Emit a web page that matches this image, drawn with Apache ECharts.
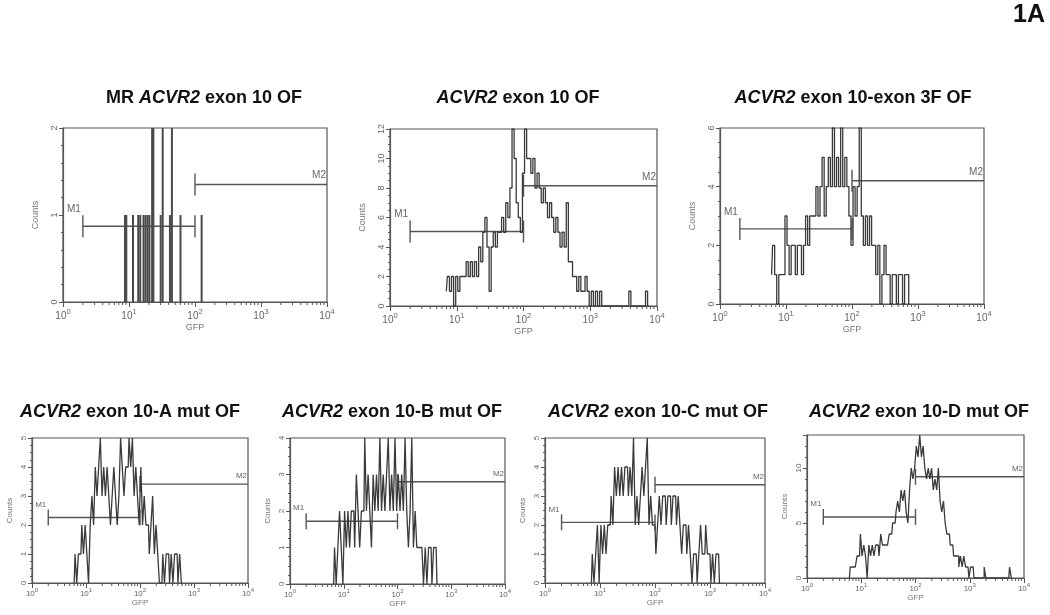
<!DOCTYPE html>
<html><head><meta charset="utf-8">
<script src="https://cdn.jsdelivr.net/npm/echarts@6/dist/echarts.min.js"></script>
<style>html,body{margin:0;padding:0;background:#fff}#c{width:1050px;height:615px}</style>
</head><body><div id="c"></div>
<script>
// ---------- DATA ----------
const BINS_PER_DECADE = 32;               // histogram channel resolution (log10 units)
const gateLabels = ['M1', 'M2'];
// log-axis minor tick values (2..9 within each decade)
const xMinorTicks = [2,3,4,5,6,7,8,9, 20,30,40,50,60,70,80,90, 200,300,400,500,600,700,800,900,
  2000,3000,4000,5000,6000,7000,8000,9000];

// Panel 1: MR ACVR2 exon 10 OF (sparse events)
const p1SpikeGfp    = [8.7, 9.1, 11.5, 13.8, 14.8, 16.6, 17.8, 19.1, 20.4, 22.4, 23.4, 30.2, 32.4, 41.7, 44.7, 60.3, 126];
const p1SpikeCounts = [1, 1, 1, 1, 1, 1, 1, 1, 1, 2, 2, 1, 2, 1, 2, 1, 1];
const p1Gates = [[2, 100, 0.87], [100, 10000, 1.35]];

// Panel 2: ACVR2 exon 10 OF
const p2StartBin = 27;
const p2Counts = [1,2,1,2,0,2,1,2,2,2, 3,2,3,2,3,2,4,3,5,6, 4,1,4,5,4,5,5,6,5,7,
  6,8,12,10,7,6,5,9,12,10, 10,9,10,8,9,8,7,8,7,6, 7,6,5,6,5,4,5,4,7,3,
  3,2,2,1,2,1,1,2,1,0, 1,0,1,0,1,0,0,0,0,0, 0,0,0,0,0,0,0,0,1,0, 0,0,0,0,0,0,1,0];
const p2Gates = [[2, 100, 5.05], [100, 10000, 8.15]];

// Panel 3: ACVR2 exon 10-exon 3F OF
const p3StartBin = 25;
const p3Counts = [1,2,1,0,1,1,1,3,2,1, 2,2,1,2,2,1,2,3,2,3, 3,3,4,3,4,5,3,4,5,4,
  6,4,5,4,6,4,5,4,3,2, 4,3,4,6,3,2,3,2,3,2, 2,1,2,0,1,2,1,1,0,1, 1,0,1,1,0,1,1,0];
const p3Gates = [[2, 100, 2.56], [100, 10000, 4.2]];

// Panel 4: ACVR2 exon 10-A mut OF
const p4StartBin = 25;
const p4Counts = [0,1,0,1,1,2,1,2,1,0, 2,3,2,4,3,4,5,3,4,3, 4,3,2,3,4,3,2,3,5,4,
  3,4,4,5,4,5,3,4,3,2, 4,2,3,2,2,1,2,3,1,2, 1,0,0,1,0,1,1,0,1,0, 1,1,0,1,0];
const p4Gates = [[2, 100, 2.26], [100, 10000, 3.41]];

// Panel 5: ACVR2 exon 10-B mut OF
const p5StartBin = 26;
const p5Counts = [0,1,0,1,2,1,0,2,1,2, 1,2,2,1,3,2,1,2,2,4, 2,3,2,1,3,2,3,2,4,2,
  3,2,3,4,2,3,2,4,2,3, 2,3,2,4,2,1,2,4,1,2, 1,1,1,1,0,1,0,1,1,0, 1,1,0];
const p5Gates = [[2, 100, 1.72], [100, 10000, 2.8]];

// Panel 6: ACVR2 exon 10-C mut OF
const p6StartBin = 27;
const p6Counts = [0,1,0,1,2,0,2,1,2,1, 2,2,3,2,4,3,4,3,4,3, 4,4,3,4,3,5,2,3,2,3,
  4,3,4,5,2,3,2,2,1,2, 3,2,3,3,2,3,3,2,3,3, 2,3,2,1,2,2,1,2,1,0, 1,1,0,1,2,1,1,2,1,1,
  0,1,0,1,1,0];
const p6Gates = [[2, 100, 2.09], [100, 10000, 3.39]];

// Panel 7: ACVR2 exon 10-D mut OF
const p7StartBin = 25;
const p7Counts = [0,1,1,1,1,2,2,4,2,3, 2,0,3,2,3,2,3,3,2,4, 3,3,3,3,4,4,5,5,6,7,
  6,8,7,8,6,5,8,10,9,10, 12,11,13,11,12,10,9,10,9,10, 8,9,8,10,7,6,7,5,4,4,
  3,3,2,2,2,1,2,1,2,1, 1,0,1,1,0,0,0,0,0,0, 1,0,0,0,0,0,0,0,0,0, 0,0,0,0,0,1,0];
const p7Gates = [[2, 100, 5.55], [100, 10000, 9.2]];

const titleParts = [
  ['MR ', 'ACVR2', ' exon 10 OF'],
  ['', 'ACVR2', ' exon 10 OF'],
  ['', 'ACVR2', ' exon 10-exon 3F OF'],
  ['', 'ACVR2', ' exon 10-A mut OF'],
  ['', 'ACVR2', ' exon 10-B mut OF'],
  ['', 'ACVR2', ' exon 10-C mut OF'],
  ['', 'ACVR2', ' exon 10-D mut OF']
];
const yMax = [2, 12, 6, 5, 4, 5, 13];
const yInterval = [1, 2, 2, 1, 1, 1, 5];
const figureLabel = '1A';

// ---------- LAYOUT ----------
const FONT = '"Liberation Sans", Arial, sans-serif';
const layout = [
  {grid: {left: 63,  top: 128, width: 264, height: 174}, tx: 204, ty: 98,  small: false},
  {grid: {left: 390, top: 129, width: 267, height: 177}, tx: 518, ty: 98,  small: false},
  {grid: {left: 720, top: 128, width: 264, height: 176}, tx: 853, ty: 98,  small: false},
  {grid: {left: 32,  top: 438, width: 216, height: 145}, tx: 130, ty: 412, small: true},
  {grid: {left: 290, top: 438, width: 215, height: 146}, tx: 392, ty: 412, small: true},
  {grid: {left: 545, top: 438, width: 220, height: 145}, tx: 658, ty: 412, small: true},
  {grid: {left: 807, top: 435, width: 217, height: 143}, tx: 919, ty: 412, small: true}
];
const yMinorSplit = [5, 4, 4, 4, 4, 4, 5];

const hists = [null,
  [p2StartBin, p2Counts], [p3StartBin, p3Counts], [p4StartBin, p4Counts],
  [p5StartBin, p5Counts], [p6StartBin, p6Counts], [p7StartBin, p7Counts]];
const gates = [p1Gates, p2Gates, p3Gates, p4Gates, p5Gates, p6Gates, p7Gates];

const GRAY = '#555';
const grids = [], xAxes = [], yAxes = [], series = [], graphics = [];

layout.forEach((L, i) => {
  const sm = L.small;
  grids.push(Object.assign({show: true, borderColor: GRAY, borderWidth: 1.2, backgroundColor: 'transparent'}, L.grid));
  xAxes.push({
    type: 'log', logBase: 10, min: 1, max: 10000, gridIndex: i,
    name: 'GFP', nameLocation: 'middle', nameGap: sm ? 15 : 21,
    nameTextStyle: {fontFamily: FONT, fontSize: sm ? 8 : 9, color: '#777'},
    axisLine: {show: true, onZero: false, lineStyle: {color: GRAY, width: 1.2}},
    axisTick: {show: true, inside: false, length: 5, lineStyle: {color: GRAY}},
    minorTick: {show: false},
    splitLine: {show: false}, minorSplitLine: {show: false},
    axisLabel: {
      margin: sm ? 4 : 6,
      formatter: v => '{b|10}{s|' + Math.round(Math.log10(v)) + '}',
      rich: {
        b: {fontFamily: FONT, fontSize: sm ? 8 : 10, color: '#666', lineHeight: sm ? 11 : 13, verticalAlign: 'bottom'},
        s: {fontFamily: FONT, fontSize: sm ? 6 : 7.5, color: '#666', verticalAlign: 'top'}
      }
    }
  });
  yAxes.push({
    type: 'value', min: 0, max: yMax[i], interval: yInterval[i], gridIndex: i,
    name: 'Counts', nameLocation: 'middle', nameGap: sm ? 18 : 23, nameRotate: 90,
    nameTextStyle: {fontFamily: FONT, fontSize: sm ? 8 : 9, color: '#777'},
    axisLine: {show: true, lineStyle: {color: GRAY, width: 1.2}},
    axisTick: {show: true, inside: false, length: 4, lineStyle: {color: GRAY}},
    minorTick: {show: true, splitNumber: yMinorSplit[i], length: 2, lineStyle: {color: GRAY}},
    splitLine: {show: false},
    axisLabel: {rotate: 90, margin: 4, showMaxLabel: i === 6 ? false : true,
      fontFamily: FONT, fontSize: sm ? 8 : 9, color: '#666'}
  });

  // log-spaced minor ticks along the x axis
  series.push({
    type: 'custom', xAxisIndex: i, yAxisIndex: i, silent: true, clip: false,
    encode: {x: 0, y: 1},
    data: xMinorTicks.map(v => [v, 0]),
    renderItem: (params, api) => {
      const p = api.coord([api.value(0), api.value(1)]);
      return {type: 'line', shape: {x1: p[0], y1: p[1], x2: p[0], y2: p[1] + 3},
        style: {stroke: GRAY, lineWidth: 1}};
    }
  });

  if (i === 0) {
    series.push({
      type: 'bar', xAxisIndex: 0, yAxisIndex: 0, barWidth: 2, silent: true,
      itemStyle: {color: '#4a4a4a'},
      data: p1SpikeGfp.map((g, k) => [g, p1SpikeCounts[k]])
    });
  } else {
    const [start, counts] = hists[i];
    series.push({
      type: 'line', xAxisIndex: i, yAxisIndex: i, step: 'middle', symbol: 'none', silent: true,
      lineStyle: {color: '#3a3a3a', width: 1.3},
      data: counts.map((c, k) => [Math.pow(10, (start + k) / BINS_PER_DECADE), c])
    });
  }

  const capH = sm ? 8 : 11;
  series.push({
    type: 'custom', xAxisIndex: i, yAxisIndex: i, silent: true, clip: false,
    encode: {x: [0, 1], y: 2},
    data: gates[i],
    renderItem: (params, api) => {
      const y = api.value(2);
      const a = api.coord([api.value(0), y]);
      const b = api.coord([api.value(1), y]);
      const st = {stroke: GRAY, lineWidth: 1.4};
      const lbl = gateLabels[params.dataIndex];
      const ch = [
        {type: 'line', shape: {x1: a[0], y1: a[1], x2: b[0], y2: b[1]}, style: st},
        {type: 'line', shape: {x1: a[0], y1: a[1] - capH, x2: a[0], y2: a[1] + capH}, style: st}
      ];
      if (params.dataIndex === 0) {
        ch.push({type: 'line', shape: {x1: b[0], y1: b[1] - capH, x2: b[0], y2: b[1] + capH}, style: st});
        ch.push({type: 'text', style: {text: lbl, x: a[0] - 2, y: a[1] - capH - 1,
          align: 'right', verticalAlign: 'bottom', fill: '#666', font: (sm ? 8 : 10) + 'px ' + FONT}});
      } else {
        ch.push({type: 'text', style: {text: lbl, x: b[0] - 1, y: b[1] - 4,
          align: 'right', verticalAlign: 'bottom', fill: '#666', font: (sm ? 8 : 10) + 'px ' + FONT}});
      }
      return {type: 'group', children: ch};
    }
  });

  const t = titleParts[i];
  graphics.push({
    type: 'text', x: L.tx, y: L.ty,
    style: {
      text: (t[0] ? '{n|' + t[0] + '}' : '') + '{i|' + t[1] + '}{n|' + t[2] + '}',
      align: 'center', verticalAlign: 'middle',
      rich: {
        n: {fontFamily: FONT, fontSize: 18, fontWeight: 'bold', fill: '#111'},
        i: {fontFamily: FONT, fontSize: 18, fontWeight: 'bold', fontStyle: 'italic', fill: '#111'}
      }
    }
  });
});

graphics.push({type: 'text', x: 1029, y: 15,
  style: {text: figureLabel, align: 'center', verticalAlign: 'middle',
    font: 'bold 25px ' + FONT, fill: '#111'}});

const chart = echarts.init(document.getElementById('c'), null, {renderer: 'canvas'});
chart.setOption({
  animation: false,
  backgroundColor: '#fff',
  grid: grids, xAxis: xAxes, yAxis: yAxes, series: series, graphic: graphics
});
</script></body></html>
